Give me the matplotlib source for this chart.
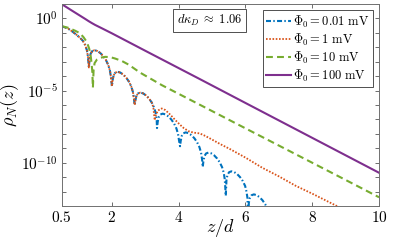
import numpy as np
import matplotlib
matplotlib.use("Agg")
import matplotlib.pyplot as plt
from matplotlib.ticker import FixedLocator, FuncFormatter

plt.rcParams['mathtext.fontset'] = 'cm'
plt.rcParams['font.family'] = ['DejaVu Serif']

# ---- data (z/d, log10 rho_N) ----
z_001 = [0.5, 0.6, 0.7, 0.83, 0.95, 1.05, 1.13, 1.2, 1.25, 1.28, 1.31,
         1.33, 1.36, 1.41, 1.48, 1.56, 1.65, 1.74, 1.82, 1.89, 1.94, 1.97, 2.00,
         2.02, 2.05, 2.10, 2.17, 2.25, 2.34, 2.43, 2.51, 2.58, 2.63, 2.66, 2.68,
         2.70, 2.73, 2.78, 2.85, 2.93, 3.02, 3.11, 3.19, 3.26, 3.31, 3.34, 3.35,
         3.37, 3.40, 3.45, 3.52, 3.60, 3.69, 3.78, 3.86, 3.93, 3.98, 4.01, 4.04,
         4.06, 4.09, 4.14, 4.21, 4.29, 4.38, 4.47, 4.55, 4.62, 4.67, 4.70, 4.72,
         4.74, 4.77, 4.82, 4.89, 4.97, 5.06, 5.15, 5.23, 5.30, 5.35, 5.38, 5.41,
         5.43, 5.46, 5.51, 5.58, 5.66, 5.75, 5.84, 5.92, 5.99, 6.03, 6.06, 6.08,
         6.10, 6.13, 6.18, 6.25, 6.33, 6.42, 6.51, 6.59, 6.66]
log_001 = [-0.55, -0.62, -0.72, -0.93, -1.15, -1.35, -1.55, -1.85, -2.2, -2.6, -3.4,
           -2.79, -2.45, -2.26, -2.20, -2.25, -2.39, -2.61, -2.88, -3.22, -3.61, -4.07, -4.7,
           -4.29, -3.95, -3.76, -3.70, -3.75, -3.89, -4.11, -4.38, -4.72, -5.11, -5.57, -6.0,
           -5.73, -5.39, -5.20, -5.14, -5.19, -5.33, -5.55, -5.82, -6.16, -6.55, -7.01, -7.6,
           -7.19, -6.85, -6.66, -6.60, -6.65, -6.79, -7.01, -7.28, -7.62, -8.01, -8.47, -8.86,
           -8.49, -8.15, -7.96, -7.90, -7.95, -8.09, -8.31, -8.58, -8.92, -9.31, -9.77, -10.3,
           -9.89, -9.55, -9.36, -9.30, -9.35, -9.49, -9.71, -9.98, -10.32, -10.71, -11.17, -12.3,
           -11.19, -10.85, -10.66, -10.60, -10.65, -10.79, -11.01, -11.28, -11.62, -12.01, -12.47, -14.5,
           -12.79, -12.45, -12.26, -12.20, -12.25, -12.39, -12.61, -12.88, -13.22]

z_1 = [0.5, 0.6, 0.7, 0.83, 0.95, 1.05, 1.13, 1.2, 1.25, 1.28, 1.31,
       1.33, 1.36, 1.41, 1.48, 1.56, 1.65, 1.74, 1.82, 1.89, 1.94, 1.97, 2.00,
       2.02, 2.05, 2.10, 2.17, 2.25, 2.34, 2.43, 2.51, 2.58, 2.63, 2.66, 2.68,
       2.70, 2.73, 2.78, 2.85, 2.93, 3.02, 3.11, 3.19, 3.24, 3.28, 3.32, 3.38,
       3.49, 3.60, 3.75, 3.90, 4.03, 4.15, 4.30, 4.45, 4.63, 4.80, 5.00, 5.25,
       5.53, 6.00, 6.50, 7.00, 7.50, 8.00, 8.73, 9.0]
log_1 = [-0.55, -0.62, -0.72, -0.93, -1.15, -1.35, -1.55, -1.85, -2.2, -2.6, -3.4,
         -2.79, -2.45, -2.26, -2.20, -2.25, -2.39, -2.61, -2.88, -3.22, -3.61, -4.07, -4.7,
         -4.29, -3.95, -3.76, -3.70, -3.75, -3.89, -4.11, -4.38, -4.72, -5.11, -5.57, -6.0,
         -5.73, -5.39, -5.20, -5.14, -5.19, -5.33, -5.55, -5.82, -6.15, -7.05, -6.65, -6.38,
         -6.24, -6.35, -6.68, -7.05, -7.35, -7.6, -7.82, -7.92, -7.97, -8.15, -8.4, -8.72,
         -9.05, -9.65, -10.35, -10.95, -11.6, -12.15, -13.0, -13.3]

z_10 = [0.5, 0.7, 0.9, 1.04, 1.15, 1.25, 1.32, 1.37, 1.41, 1.43, 1.45, 1.48,
        1.55, 1.65, 1.80, 1.95, 2.10, 2.30, 2.50, 2.84, 3.50, 4.63, 6.00,
        7.50, 9.00, 10.0]
log_10 = [-0.53, -0.65, -0.85, -1.02, -1.3, -1.64, -2.1, -2.7, -3.6, -4.8, -3.6, -3.1,
          -2.85, -2.72, -2.66, -2.68, -2.78, -2.95, -3.2, -3.75, -4.63, -5.98, -7.62,
          -9.41, -11.2, -12.4]

z_100 = [0.5, 0.8, 1.0, 1.2, 1.3, 1.4, 1.5, 1.7, 2.0, 3.0, 4.63, 6.0, 8.0, 10.0]
log_100 = [0.99, 0.55, 0.26, -0.03, -0.18, -0.32, -0.45, -0.68, -1.03, -2.24, -4.2,
           -5.86, -8.28, -10.7]

labels = [r'$\Phi_0 = 0.01\ \mathrm{mV}$', r'$\Phi_0 = 1\ \mathrm{mV}$',
          r'$\Phi_0 = 10\ \mathrm{mV}$', r'$\Phi_0 = 100\ \mathrm{mV}$']
x_ticks = [0.5, 2, 4, 6, 8, 10]
x_tick_labels = ['0.5', '2', '4', '6', '8', '10']

fig = plt.figure(figsize=(3.99, 2.40), dpi=100)
ax = fig.add_axes([0.155, 0.142, 0.795, 0.841])

ax.semilogy(z_001, np.power(10.0, log_001), color='#0072BD', lw=1.5,
            dashes=(2.4, 1.1, 0.7, 1.1), label=labels[0])
ax.semilogy(z_1, np.power(10.0, log_1), color='#D95319', lw=1.3,
            dashes=(0.9, 0.9), label=labels[1])
ax.semilogy(z_10, np.power(10.0, log_10), color='#77AC30', ls='--', lw=1.5,
            dashes=(3.3, 2.0), label=labels[2])
ax.semilogy(z_100, np.power(10.0, log_100), color='#7E2F8E', ls='-', lw=1.5, label=labels[3])

ax.set_xlim(0.5, 10)
ax.set_ylim(1e-13, 1e1)

ax.set_xticks(x_ticks)
ax.set_xticklabels(['$' + s + '$' for s in x_tick_labels])

ydec = [10.0 ** k for k in range(-13, 2)]
ax.yaxis.set_major_locator(FixedLocator(ydec))
ax.yaxis.set_minor_locator(FixedLocator([]))
ax.yaxis.set_major_formatter(FuncFormatter(
    lambda v, p: (r'$10^{%d}$' % int(round(np.log10(v)))) if int(round(np.log10(v))) % 5 == 0 and np.log10(v) < 0.5 else ''))

ax.tick_params(which='both', direction='in', top=True, right=True, length=3,
               width=0.6, color='#555555', labelsize=11, pad=3)
for s in ax.spines.values():
    s.set_color('#707070')
    s.set_linewidth(0.7)

ax.set_xlabel(r'$z/d$', fontsize=13)
ax.xaxis.set_label_coords(0.5, -0.055)
ax.xaxis.label.set_va('top')
ax.set_ylabel(r'$\rho_N(z)$', fontsize=13)
ax.yaxis.set_label_coords(-0.128, 0.5)

leg = ax.legend(loc='upper right', fontsize=9, handlelength=2.0, handletextpad=0.2,
                borderpad=0.25, labelspacing=0.15, borderaxespad=0.5, fancybox=False,
                framealpha=1, edgecolor='#333333')
leg.get_frame().set_linewidth(0.6)

ax.text(0.465, 0.918, r'$d\kappa_D \;\approx\; 1.06$', transform=ax.transAxes, fontsize=9,
        ha='center', va='center',
        bbox=dict(boxstyle='square,pad=0.3', facecolor='white', edgecolor='#333333', linewidth=0.6))

fig.savefig('out.png', dpi=100)
